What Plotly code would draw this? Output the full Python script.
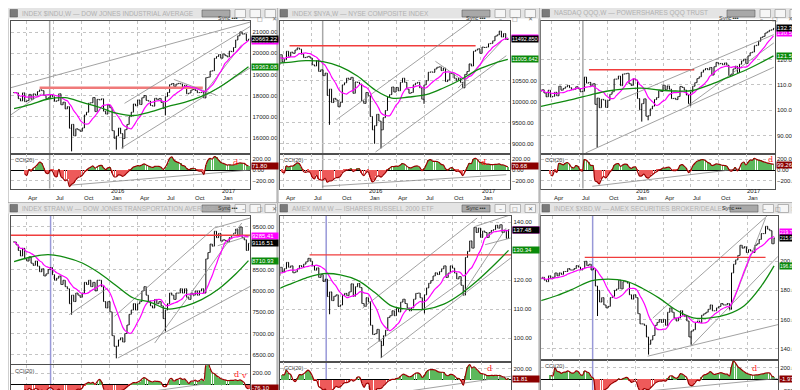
import numpy as np
import pandas as pd
import plotly.graph_objects as go

DATES = pd.date_range("2015-02-20", "2017-03-31", freq="W-FRI")

TITLES = [
    "INDEX $INDU,W \u2014 DOW JONES INDUSTRIAL AVERAGE",
    "INDEX $NYA,W \u2014 NYSE COMPOSITE INDEX",
    "NASDAQ QQQ,W \u2014 POWERSHARES QQQ TRUST",
    "INDEX $TRAN,W \u2014 DOW JONES TRANSPORTATION AVERAGE",
    "AMEX IWM,W \u2014 ISHARES RUSSELL 2000 ETF",
    "INDEX $XBD,W \u2014 AMEX SECURITIES BROKER/DEALER",
]

INDU_CLOSE = [
    18140, 18133, 17856, 17749, 18128, 17712, 17763, 18058, 17826, 18080,
    18024, 18191, 18272, 18232, 18011, 17849, 17898, 18016, 17947, 17730,
    17760, 18086, 17568, 17690, 17373, 17477, 16460, 16643, 16102, 16433,
    16385, 16315, 16472, 17084, 17216, 17647, 17664, 17910, 17245, 17824,
    17798, 17848, 17265, 17128, 17552, 17425,
    16346, 15988, 16094, 16466, 16205, 15974, 16392, 16640, 17007, 17214,
    17602, 17516, 17793, 17577, 17898, 18004, 17774, 17740, 17535, 17501,
    17873, 17807, 17865, 17675, 17400, 17949, 18147, 18517, 18571, 18432,
    18543, 18576, 18553, 18395, 18492, 18085, 18124, 18262, 18308, 18240,
    18138, 18145, 18161, 17888, 18847, 18868, 19152, 19171, 19757, 19843,
    19934, 19763,
    19964, 19886, 19827, 20094, 20071, 20269, 20624, 20822, 21006, 20903,
    20915, 20597, 20663.22,
]
NYA_CLOSE = [
    11150, 11160, 10950, 10880, 11120, 10950, 11000, 11200, 11080, 11180,
    11150, 11230, 11280, 11250, 11130, 11050, 11060, 11080, 11040, 10880,
    10850, 10980, 10720, 10760, 10620, 10680, 10150, 10300, 9980, 10080,
    10040, 9880, 9980, 10400, 10450, 10560, 10530, 10580, 10200, 10470,
    10460, 10420, 10020, 9960, 10220, 10143,
    9650, 9330, 9430, 9700, 9540, 9330, 9620, 9790, 10110, 10170,
    10350, 10230, 10340, 10260, 10460, 10560, 10460, 10300, 10200, 10220,
    10400, 10440, 10460, 10330, 10060, 10400, 10500, 10700, 10710, 10700,
    10780, 10820, 10830, 10740, 10800, 10480, 10520, 10680, 10660, 10560,
    10510, 10560, 10460, 10330, 10650, 10720, 10900, 10850, 11200, 11230,
    11260, 11150,
    11300, 11290, 11300, 11380, 11390, 11450, 11560, 11590, 11680, 11540,
    11620, 11480, 11492.85,
]
QQQ_CLOSE = [
    107.6, 108.1, 106.8, 105.3, 107.9, 105.2, 105.5, 107.1, 105.7, 109.5,
    107.9, 108.6, 109.2, 109.8, 108.9, 108.1, 108.3, 109.3, 108.5, 107.3,
    107.5, 113.1, 110.7, 111.0, 109.7, 110.5, 102.3, 104.8, 101.0, 104.3,
    104.0, 101.1, 103.9, 106.3, 107.3, 112.3, 112.3, 113.5, 109.7, 114.3,
    114.4, 114.6, 110.5, 109.8, 112.4, 111.9,
    104.6, 100.2, 102.6, 104.5, 97.6, 97.8, 100.5, 101.6, 104.2, 105.0,
    107.7, 107.4, 109.9, 108.2, 109.6, 108.3, 104.6, 104.7, 104.2, 105.4,
    109.4, 109.0, 108.0, 106.0, 102.6, 107.2, 109.5, 110.9, 112.5, 113.2,
    115.0, 115.9, 116.5, 116.0, 116.9, 113.9, 117.2, 118.9, 118.3, 118.5,
    118.0, 118.7, 117.8, 113.7, 114.2, 116.3, 117.4, 114.9, 118.2, 119.5,
    120.2, 118.5,
    121.5, 122.7, 123.0, 125.5, 125.7, 127.3, 128.8, 129.2, 130.5, 131.0,
    131.6, 131.8, 132.38,
]
TRAN_CLOSE = [
    9150, 9080, 8950, 8820, 9000, 8750, 8700, 8800, 8650, 8600,
    8700, 8580, 8450, 8520, 8350, 8400, 8500, 8550, 8380, 8250,
    8300, 8350, 8150, 8250, 8100, 8050, 7700, 7900, 7750, 7950,
    7900, 7850, 7950, 8200, 8150, 8250, 8100, 8200, 8000, 8250,
    8250, 8100, 7750, 7600, 7750, 7508,
    6950, 6700, 6700, 6850, 6900, 6800, 7000, 7200, 7450, 7550,
    7700, 7550, 7700, 7750, 8000, 8100, 7900, 7750, 7650, 7600,
    7800, 7700, 7750, 7650, 7350, 7550, 7700, 7950, 7900, 7800,
    7950, 7950, 8050, 7950, 8050, 7850, 7800, 7950, 7900, 8000,
    7900, 8000, 8050, 7950, 8750, 8900, 9100, 9050, 9400, 9250,
    9350, 9169,
    9200, 9180, 9150, 9250, 9300, 9350, 9450, 9300, 9500, 9250,
    9200, 8950, 9116.51,
]
IWM_CLOSE = [
    122.6, 122.7, 121.2, 121.6, 124.5, 122.9, 124.0, 126.2, 124.5, 125.0,
    122.6, 122.9, 123.9, 125.1, 124.6, 125.6, 126.4, 127.6, 126.6, 125.0,
    123.5, 124.3, 121.0, 122.0, 119.6, 120.4, 114.4, 116.0, 113.0, 114.5,
    115.0, 111.0, 111.5, 114.8, 115.5, 114.7, 116.0, 118.8, 114.5, 117.8,
    118.9, 117.5, 112.0, 111.0, 114.0, 112.6,
    104.5, 101.3, 101.6, 103.1, 99.1, 97.5, 100.9, 102.8, 107.2, 107.8,
    109.5, 107.8, 110.3, 109.1, 112.5, 113.5, 112.0, 110.5, 109.5, 110.5,
    113.5, 115.5, 115.6, 114.0, 110.0, 115.0, 117.4, 119.0, 119.9, 121.5,
    122.6, 122.0, 123.0, 124.0, 125.0, 121.0, 122.5, 125.0, 124.2, 122.5,
    120.5, 121.3, 118.3, 114.9, 127.9, 130.0, 133.6, 131.1, 138.3, 136.5,
    138.0, 134.8,
    137.0, 136.5, 134.8, 136.5, 137.2, 137.5, 139.0, 138.0, 139.2, 136.5,
    137.3, 134.5, 137.48,
]
XBD_CLOSE = [
    188, 189, 187, 186, 190, 188, 189, 192, 190, 192,
    191, 193, 193, 195, 194, 194, 195, 197, 196, 194,
    195, 200, 197, 198, 194, 195, 183, 180, 172, 175,
    170, 168, 169, 175, 176, 180, 181, 187, 181, 186,
    186, 185, 177, 174, 177, 175,
    164, 157, 157, 156, 148, 143, 146, 149, 156, 158,
    160, 158, 160, 156, 165, 168, 165, 161, 159, 161,
    166, 163, 162, 159, 148, 152, 153, 158, 159, 158,
    163, 164, 165, 167, 170, 166, 166, 168, 169, 171,
    170, 170, 171, 167, 192, 198, 201, 204, 211, 209,
    210, 206,
    208, 207, 206, 211, 212, 215, 219, 219, 224, 222,
    221, 212, 215.9633,
]

# notable weekly lows that reach below the open/close range
INDU_LOWS = [("2015-08-28", 15370), ("2016-01-22", 15450), ("2016-02-12", 15503), ("2016-07-01", 17063)]
NYA_LOWS = [("2015-08-28", 9450), ("2016-01-22", 9000), ("2016-02-12", 8890), ("2016-07-01", 9950)]
QQQ_LOWS = [("2015-08-28", 85.2), ("2016-01-22", 95.5), ("2016-02-12", 96.0), ("2016-07-01", 101.6)]
TRAN_LOWS = [("2015-08-28", 7442), ("2016-01-22", 6418), ("2016-07-01", 7052)]
IWM_LOWS = [("2015-08-28", 108.3), ("2016-02-12", 93.2), ("2016-07-01", 108.6)]
XBD_LOWS = [("2015-08-28", 162.4), ("2016-02-12", 135.9), ("2016-07-01", 142.7)]

# long moving average
GREEN_DATES = ["2015-02-20", "2015-04-17", "2015-06-12", "2015-08-07", "2015-10-02",
               "2015-11-27", "2016-01-22", "2016-03-18", "2016-05-13", "2016-07-08",
               "2016-09-02", "2016-10-28", "2016-12-23", "2017-02-17", "2017-03-31"]
INDU_GREEN = [17385, 17590, 17840, 17900, 17680, 17450, 17170, 17060, 17230, 17480, 17680, 17960, 18370, 18920, 19363.08]
NYA_GREEN = [10906, 10937, 10977, 10953, 10834, 10612, 10287, 10088, 10112, 10167, 10326, 10524, 10762, 10921, 11005.642]
QQQ_GREEN = [101.4, 102.9, 104.4, 106.1, 107.6, 108.4, 108.7, 108.0, 107.6, 107.8, 110.0, 112.8, 115.5, 118.8, 121.51]
TRAN_GREEN = [8687, 8796, 8850, 8788, 8655, 8420, 8123, 7834, 7733, 7577, 7640, 7795, 8046, 8398, 8710.93]
IWM_GREEN = [116.0, 118.5, 120.8, 122.3, 121.9, 120.0, 115.8, 111.1, 110.0, 110.1, 111.8, 115.4, 120.2, 125.8, 130.34]
XBD_GREEN = [172.8, 176.5, 181.3, 186.5, 187.8, 186.5, 181.5, 174.7, 166.5, 161.2, 161.1, 163.5, 169.5, 183.0, 196.8516]

# reported box values
MAG_LAST = [None, None, 130.51, 9285.41, None, 219.7849]
CCI_LAST = [71.80, 70.68, 99.26, -76.10, 11.81, -1.97]

# red resistance lines: start, end, level
INDU_RED = ("2015-05-15", "2016-11-01", 18370)
NYA_RED = ("2015-04-20", "2016-12-16", 11333)
QQQ_RED = ("2015-08-01", "2016-07-13", 116.0)
TRAN_RED = ("2015-02-01", "2017-04-10", 9305)
IWM_RED = ("2015-06-24", "2017-04-12", 128.8)
XBD_RED = ("2015-07-17", "2017-03-03", 202.7)

# gray trend lines: (date0, value0, date1, value1)
INDU_TREND = [("2015-02-09", 18371, "2017-04-06", 21470), ("2016-02-18", 17635, "2017-04-06", 21266),
              ("2016-02-07", 15522, "2017-04-06", 19310), ("2015-02-09", 17087, "2015-05-21", 18089),
              ("2016-07-29", 18762, "2016-12-14", 18026), ("2016-10-27", 17933, "2017-03-09", 20405)]
NYA_TREND = [("2015-09-20", 9572, "2016-12-01", 11914), ("2016-01-25", 8803, "2017-03-26", 11095),
             ("2016-10-20", 10326, "2017-03-11", 11438), ("2016-08-07", 10962, "2016-10-31", 10526)]
QQQ_TREND = [("2015-07-21", 83.1, "2017-04-01", 117.0), ("2015-11-13", 104.2, "2017-04-01", 129.9),
             ("2016-06-20", 101.6, "2017-04-01", 126.6)]
TRAN_TREND = [("2015-08-20", 7442, "2015-12-25", 8068), ("2016-01-16", 7404, "2016-12-09", 9477),
              ("2016-01-27", 6425, "2017-04-06", 8108), ("2016-05-27", 6777, "2017-03-09", 9594),
              ("2016-12-09", 9477, "2017-04-06", 9711), ("2016-12-20", 9060, "2017-04-06", 9300)]
IWM_TREND = [("2015-12-13", 110.4, "2016-12-19", 141.5), ("2016-02-10", 93.2, "2017-04-07", 127.7),
             ("2015-12-28", 96.1, "2016-10-31", 119.7), ("2016-10-31", 115.0, "2017-03-23", 138.0),
             ("2016-12-13", 138.6, "2017-04-07", 142.6), ("2017-01-14", 132.3, "2017-04-07", 134.6)]
XBD_TREND = [("2016-02-09", 134.8, "2017-04-13", 156.5), ("2016-02-26", 161.0, "2017-03-19", 233.2),
             ("2016-07-01", 141.6, "2017-04-13", 203.4), ("2016-11-04", 165.7, "2017-03-03", 229.7)]

INDU_CCI_TREND = ("2015-08-20", -283, "2017-04-06", 0)
NYA_CCI_TREND = ("2015-08-04", -302, "2017-03-26", -87)
QQQ_CCI_TREND = ("2015-08-12", -302, "2016-12-04", 18)
TRAN_CCI_TREND = ("2016-01-16", -231, "2016-11-05", 0)
IWM_CCI_TREND = ("2016-01-14", -305, "2017-04-07", 58)
XBD_CCI_TREND = ("2015-08-22", -296, "2017-04-11", 12)

INDU_MARKS = [("2017-02-15", 148, "d")]
NYA_MARKS = [("2017-01-10", 148, "d")]
QQQ_MARKS = [("2017-03-20", 190, "d")]
TRAN_MARKS = [("2017-02-21", 187, "d"), ("2017-03-16", 157, "v")]
IWM_MARKS = [("2017-01-28", 196, "d")]
XBD_MARKS = [("2017-01-24", 188, "d")]

# axis labels that are visible in the chart (others sit under the value boxes)
INDU_TICKS = [16000, 17000, 18000, 19000, 20000, 21000]
NYA_TICKS = [9000, 9500, 10000, 10500]
QQQ_TICKS = [90, 100, 110, 120]
TRAN_TICKS = [6500, 7000, 7500, 8000, 8500, 9500]
IWM_TICKS = [100, 110, 120, 140]
XBD_TICKS = [140, 160, 180, 200]
INDU_CCI_TICKS = [-200, 0, 200]
NYA_CCI_TICKS = [-200, 0, 200]
QQQ_CCI_TICKS = [-200, 0, 200]
TRAN_CCI_TICKS = [-200, 200]
IWM_CCI_TICKS = [200]
XBD_CCI_TICKS = [-200, 200]

TICK_DATES = ["2015-04-01", "2015-07-01", "2015-10-01", "2016-01-01",
              "2016-04-01", "2016-07-01", "2016-10-01", "2017-01-01"]
TICK_TEXT = ["Apr", "Jul", "Oct", "Jan", "Apr", "Jul", "Oct", "Jan"]
YEAR_LABELS = [("2016-01-01", "2016"), ("2017-01-01", "2017")]

PANELS = [
    dict(close=INDU_CLOSE, lows=INDU_LOWS, green=INDU_GREEN, red=INDU_RED, trend=INDU_TREND, ccit=INDU_CCI_TREND, marks=INDU_MARKS, ticks=INDU_TICKS, cticks=INDU_CCI_TICKS),
    dict(close=NYA_CLOSE, lows=NYA_LOWS, green=NYA_GREEN, red=NYA_RED, trend=NYA_TREND, ccit=NYA_CCI_TREND, marks=NYA_MARKS, ticks=NYA_TICKS, cticks=NYA_CCI_TICKS),
    dict(close=QQQ_CLOSE, lows=QQQ_LOWS, green=QQQ_GREEN, red=QQQ_RED, trend=QQQ_TREND, ccit=QQQ_CCI_TREND, marks=QQQ_MARKS, ticks=QQQ_TICKS, cticks=QQQ_CCI_TICKS),
    dict(close=TRAN_CLOSE, lows=TRAN_LOWS, green=TRAN_GREEN, red=TRAN_RED, trend=TRAN_TREND, ccit=TRAN_CCI_TREND, marks=TRAN_MARKS, ticks=TRAN_TICKS, cticks=TRAN_CCI_TICKS),
    dict(close=IWM_CLOSE, lows=IWM_LOWS, green=IWM_GREEN, red=IWM_RED, trend=IWM_TREND, ccit=IWM_CCI_TREND, marks=IWM_MARKS, ticks=IWM_TICKS, cticks=IWM_CCI_TICKS),
    dict(close=XBD_CLOSE, lows=XBD_LOWS, green=XBD_GREEN, red=XBD_RED, trend=XBD_TREND, ccit=XBD_CCI_TREND, marks=XBD_MARKS, ticks=XBD_TICKS, cticks=XBD_CCI_TICKS),
]

# ---------------- layout geometry (pixels) ----------------
GEOM = [
    dict(win=(0, 0, 269, 195), px=(2.7, 242.3), price=(12.7, 145.7), cci=(146.3, 180.5),
         xr=("2015-02-09", "2017-04-06"), yr=(15259, 21533), cr=(-343, 291), dates=True,
         cursor=("2015-06-17", "#a8a8a8"), dec=2, bx=267, redw=2.4, redc="#f07a7a"),
    dict(win=(270, 0, 531, 195), px=(272.3, 501.7), price=(12.7, 145.7), cci=(146.3, 180.5),
         xr=("2015-03-21", "2017-04-06"), yr=(8763, 11928), cr=(-343, 291), dates=True,
         cursor=("2015-08-06", "#a8a8a8"), dec=3, bx=527, redw=1.4, redc="#f03c3c"),
    dict(win=(532, 0, 800, 195), px=(533.0, 766.7), price=(12.7, 145.7), cci=(146.3, 180.5),
         xr=("2015-02-24", "2017-04-04"), yr=(82.8, 135.4), cr=(-343, 291), dates=True,
         cursor=("2015-07-12", "#a8a8a8"), dec=2, bx=792, redw=1.4, redc="#f03c3c"),
    dict(win=(0, 195, 269, 390), px=(2.7, 242.3), price=(207.7, 356.0), cci=(356.5, 390),
         xr=("2015-02-09", "2017-04-06"), yr=(6285, 9765), cr=(-262, 367), dates=False,
         cursor=("2015-06-20", "#9898d8"), dec=2, bx=267, redw=1.6, redc="#f03c3c"),
    dict(win=(270, 195, 531, 390), px=(272.3, 503.3), price=(207.7, 353.5), cci=(354.0, 390),
         xr=("2015-03-21", "2017-04-09"), yr=(92.0, 142.3), cr=(-336, 318), dates=False,
         cursor=("2015-08-17", "#9898d8"), dec=2, bx=527, redw=1.4, redc="#f03c3c"),
    dict(win=(532, 195, 800, 390), px=(533.3, 770.0), price=(207.7, 351.7), cci=(352.0, 390),
         xr=("2015-02-24", "2017-04-13"), yr=(132.4, 231.3), cr=(-330, 337), dates=False,
         cursor=("2015-08-12", "#9898d8"), dec=4, bx=795, redw=1.4, redc="#f03c3c"),
]

FONT = "Liberation Sans, Arial, sans-serif"
W, H = 800, 390


def dx(p):
    return p / W


def dy(p):
    return max(0.0, min(1.0, 1 - p / H))


def cci20(close):
    c = pd.Series(close, dtype=float)
    o = c.shift(1).fillna(c.iloc[0])
    h = np.maximum(o, c)
    l = np.minimum(o, c)
    tp = (h + l + c) / 3.0
    sma = tp.rolling(20, min_periods=6).mean()
    mad = tp.rolling(20, min_periods=6).apply(lambda w: np.mean(np.abs(w - w.mean())), raw=True)
    return ((tp - sma) / (0.015 * mad)).tolist()


fig = go.Figure()
layout = {}
annotations = []
shapes = []

for i, (P, G) in enumerate(zip(PANELS, GEOM)):
    assert len(P["close"]) == len(DATES)
    n1, n2 = 2 * i + 1, 2 * i + 2
    xa1 = "x" if n1 == 1 else f"x{n1}"
    ya1 = "y" if n1 == 1 else f"y{n1}"
    xa2, ya2 = f"x{n2}", f"y{n2}"
    xk1 = "xaxis" if n1 == 1 else f"xaxis{n1}"
    yk1 = "yaxis" if n1 == 1 else f"yaxis{n1}"
    xk2, yk2 = f"xaxis{n2}", f"yaxis{n2}"

    c = pd.Series(P["close"], dtype=float)
    o = c.shift(1).fillna(c.iloc[0])
    hi = np.maximum(o, c)
    lo = np.minimum(o, c)
    for d, v in P["lows"]:
        k = DATES.get_loc(pd.Timestamp(d))
        lo.iloc[k] = min(lo.iloc[k], v)

    fig.add_trace(go.Ohlc(
        x=DATES, open=o.tolist(), high=hi.tolist(), low=lo.tolist(), close=c.tolist(),
        xaxis=xa1, yaxis=ya1, tickwidth=0.35, hoverinfo="skip",
        increasing=dict(line=dict(color="#000000", width=1)),
        decreasing=dict(line=dict(color="#000000", width=1))))

    r = P["red"]
    fig.add_trace(go.Scatter(x=[r[0], r[1]], y=[r[2], r[2]], mode="lines", xaxis=xa1, yaxis=ya1,
                             line=dict(color=G["redc"], width=G["redw"]), hoverinfo="skip"))
    tx, ty = [], []
    for d0, v0, d1, v1 in P["trend"]:
        tx += [d0, d1, None]
        ty += [v0, v1, None]
    fig.add_trace(go.Scatter(x=tx, y=ty, mode="lines", xaxis=xa1, yaxis=ya1,
                             line=dict(color="#8a8a8a", width=0.8), hoverinfo="skip"))

    mag = c.rolling(10, min_periods=1).mean()
    fig.add_trace(go.Scatter(x=DATES, y=mag.tolist(), mode="lines", xaxis=xa1, yaxis=ya1,
                             line=dict(color="#ff00ff", width=1.2, shape="spline"), hoverinfo="skip"))
    fig.add_trace(go.Scatter(x=GREEN_DATES, y=P["green"], mode="lines", xaxis=xa1, yaxis=ya1,
                             line=dict(color="#108a10", width=1.3, shape="spline"), hoverinfo="skip"))

    cci = cci20(P["close"])
    cols = ["#ee5a5a" if (v == v and v < 0) else "#5cb85c" for v in cci]
    fig.add_trace(go.Bar(x=DATES, y=cci, marker=dict(color=cols, line=dict(width=0)),
                         width=3.0 * 86400000, xaxis=xa2, yaxis=ya2, hoverinfo="skip"))
    ct = P["ccit"]
    fig.add_trace(go.Scatter(x=[ct[0], ct[2]], y=[ct[1], ct[3]], mode="lines", xaxis=xa2, yaxis=ya2,
                             line=dict(color="#8a8a8a", width=0.8), hoverinfo="skip"))
    fig.add_trace(go.Scatter(x=DATES, y=cci, mode="lines", xaxis=xa2, yaxis=ya2,
                             line=dict(color="#9a0000", width=1.2, shape="spline"), hoverinfo="skip"))

    px0, px1 = G["px"]
    grid = dict(showgrid=True, gridcolor="#c4c4c4", griddash="dot", gridwidth=1)
    frame = dict(showline=True, mirror=True, linecolor="#505050", linewidth=1, zeroline=False, fixedrange=True)
    layout[xk1] = dict(domain=[dx(px0), dx(px1)], range=list(G["xr"]), type="date", anchor=ya1,
                       tickvals=TICK_DATES, showticklabels=False, ticks="",
                       rangeslider=dict(visible=False), **grid, **frame)
    layout[yk1] = dict(domain=[dy(G["price"][1]), dy(G["price"][0])], range=list(G["yr"]), anchor=xa1,
                       side="right", tickvals=P["ticks"], tickformat=".2f", ticks="",
                       tickfont=dict(size=6, color="#202020", family=FONT), **grid, **frame)
    layout[xk2] = dict(domain=[dx(px0), dx(px1)], range=list(G["xr"]), type="date", anchor=ya2,
                       tickvals=TICK_DATES, showticklabels=False, ticks="", **grid, **frame)
    cframe = dict(frame)
    cframe["zeroline"] = True
    layout[yk2] = dict(domain=[dy(G["cci"][1]), dy(G["cci"][0])], range=list(G["cr"]), anchor=xa2,
                       side="right", tickvals=P["cticks"], tickformat=".2f", ticks="",
                       zerolinecolor="#000000", zerolinewidth=1,
                       tickfont=dict(size=6, color="#202020", family=FONT), **grid, **cframe)

    # date labels (month on the lower line, year above January)
    if G["dates"]:
        cb = G["cci"][1]
        for d, t in zip(TICK_DATES, TICK_TEXT):
            annotations.append(dict(x=d, xref=xa2, xanchor="left", xshift=0, y=dy(cb + 9.2), yref="paper",
                                    yanchor="middle", text=t, showarrow=False,
                                    font=dict(size=6, color="#202020", family=FONT)))
        for d, t in YEAR_LABELS:
            annotations.append(dict(x=d, xref=xa2, xanchor="left", xshift=-1, y=dy(cb + 2.8), yref="paper",
                                    yanchor="middle", text=t, showarrow=False,
                                    font=dict(size=6, color="#202020", family=FONT)))

    shapes.append(dict(type="line", xref=xa1, yref="paper", x0=G["cursor"][0], x1=G["cursor"][0],
                       y0=dy(G["cci"][1]), y1=dy(G["price"][0]),
                       line=dict(color=G["cursor"][1], width=1.5), layer="below"))

    dec = G["dec"]
    bfont = {2: 6, 3: 5.5, 4: 4.9}[dec]
    bw = 26 if dec < 4 else 24
    mag_last = MAG_LAST[i] if MAG_LAST[i] is not None else float(mag.iloc[-1])
    boxes = [(P["green"][-1], "#0a8a0a", ya1), (mag_last, "#ff00ff", ya1),
             (P["close"][-1], "#000000", ya1)]
    for val, colr, yr_ in boxes:
        annotations.append(dict(x=dx(px1 + 1), xref="paper", xanchor="left", y=val, yref=yr_,
                                yanchor="middle", text=f"{val:.{dec}f}", showarrow=False,
                                bgcolor=colr, width=bw, height=6, align="left", borderpad=0,
                                font=dict(size=bfont, color="#ffffff", family=FONT)))
    annotations.append(dict(x=dx(px1 + 1), xref="paper", xanchor="left", y=CCI_LAST[i], yref=ya2,
                            yanchor="middle", text=f"{CCI_LAST[i]:.2f}", showarrow=False,
                            bgcolor="#8b0000", width=bw, height=6, align="left", borderpad=0,
                            font=dict(size=6, color="#ffffff", family=FONT)))
    annotations.append(dict(x=dx(px0 + 2), xref="paper", xanchor="left", y=dy(G["cci"][0] + 1),
                            yref="paper", yanchor="top", text="CCI(20)", showarrow=False,
                            font=dict(size=5.5, color="#404040", family=FONT)))
    for d, v, t in P["marks"]:
        annotations.append(dict(x=d, xref=xa2, y=v, yref=ya2, text=t, showarrow=False,
                                font=dict(size=8, color="#ff1a1a", family="DejaVu Serif")))

    # window chrome
    wx0, wy0, wx1, wy1 = G["win"]
    shapes.append(dict(type="rect", xref="paper", yref="paper", x0=dx(wx0), x1=dx(wx1),
                       y0=dy(wy1), y1=dy(wy0), line=dict(color="#a0a0a0", width=1)))
    shapes.append(dict(type="rect", xref="paper", yref="paper", x0=dx(wx0), x1=dx(wx1),
                       y0=dy(wy0 + 10.5), y1=dy(wy0), fillcolor="#e4e4e4", line=dict(width=0)))
    shapes.append(dict(type="rect", xref="paper", yref="paper", x0=dx(wx0 + 2), x1=dx(wx0 + 9.5),
                       y0=dy(wy0 + 9), y1=dy(wy0 + 1.5), fillcolor="#7a7a7a", line=dict(color="#505050", width=0.5)))
    annotations.append(dict(x=dx(wx0 + 12), xref="paper", xanchor="left", y=dy(wy0 + 5.4), yref="paper",
                            yanchor="middle", text=TITLES[i], showarrow=False,
                            font=dict(size=6.5, color="#b0b0b0", family=FONT)))
    bx = G["bx"]
    shapes.append(dict(type="rect", xref="paper", yref="paper", x0=dx(bx - 73), x1=dx(bx - 45),
                       y0=dy(wy0 + 9), y1=dy(wy0 + 2), fillcolor="#a8a8a8", line=dict(color="#5a5a5a", width=0.6)))
    annotations.append(dict(x=dx(bx - 59), xref="paper", y=dy(wy0 + 5.5), yref="paper", text="Sync \u25aa\u25aa\u25aa",
                            showarrow=False, font=dict(size=5.5, color="#303030", family=FONT)))
    for k, g in enumerate(["\u2013", "\u25a1", "\u2715"]):
        bx0 = bx - 40 + 15 * k
        shapes.append(dict(type="rect", xref="paper", yref="paper", x0=dx(bx0), x1=dx(bx0 + 10.5),
                           y0=dy(wy0 + 9.5), y1=dy(wy0 + 1.5), fillcolor="#f6f6f6",
                           line=dict(color="#9a9a9a", width=0.7)))
        annotations.append(dict(x=dx(bx0 + 5.25), xref="paper", y=dy(wy0 + 5.5), yref="paper", text=g,
                                showarrow=False, font=dict(size=6, color="#707070", family="DejaVu Sans")))

fig.update_layout(
    width=W, height=H, margin=dict(l=0, r=0, t=0, b=0),
    paper_bgcolor="#ffffff", plot_bgcolor="#ffffff", showlegend=False,
    font=dict(family=FONT, size=6, color="#202020"),
    annotations=annotations, shapes=shapes, bargap=0, **layout)

fig.write_html("out.html")
